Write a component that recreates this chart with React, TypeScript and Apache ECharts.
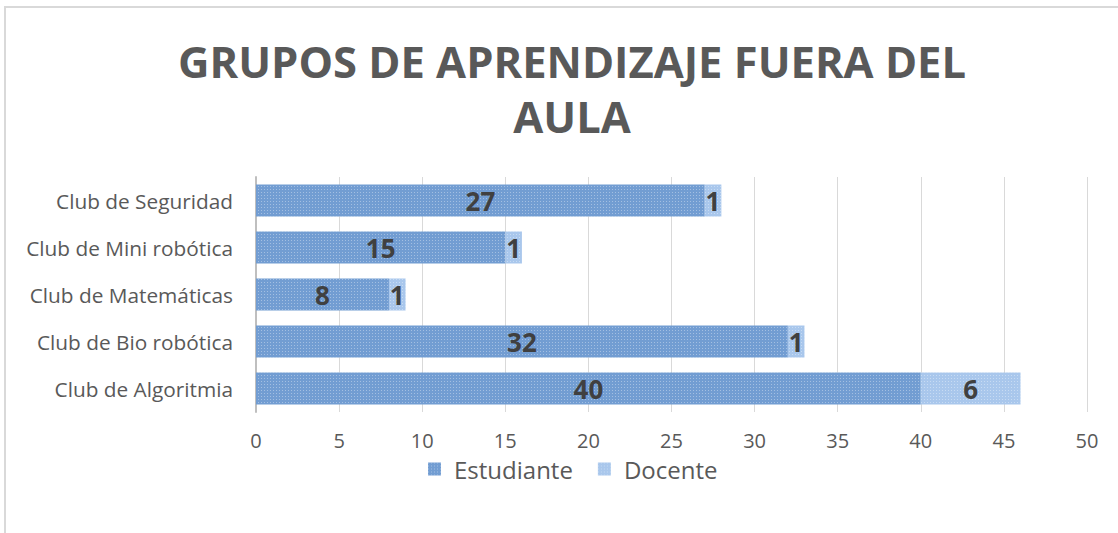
import React, { useEffect, useRef } from "react";
import * as echarts from "echarts";

const categories = [
  "Club de Algoritmia",
  "Club de Bio robótica",
  "Club de Matemáticas",
  "Club de Mini robótica",
  "Club de Seguridad",
];
const estudiante = [40, 32, 8, 15, 27];
const docente = [6, 1, 1, 1, 1];
const xTicks = [0, 5, 10, 15, 20, 25, 30, 35, 40, 45, 50];
const titleText = "GRUPOS DE APRENDIZAJE FUERA DEL\nAULA";

export default function App() {
  const ref = useRef<HTMLDivElement>(null);
  useEffect(() => {
    const chart = echarts.init(ref.current!, null, { renderer: "svg" });
    const label = {
      show: true,
      position: "inside",
      color: "#404040",
      fontSize: 26,
      fontWeight: "bold",
      fontFamily: "Open Sans",
    };
    const decal = {
      symbol: "rect",
      symbolSize: 1,
      color: "rgba(255,255,255,0.35)",
      dashArrayX: [1, 2],
      dashArrayY: [1, 2],
      rotation: 0,
    };
    chart.setOption({
      animation: false,
      backgroundColor: "#ffffff",
      aria: { enabled: true, decal: { show: true } },
      title: {
        text: titleText,
        left: 567,
        textAlign: "center",
        top: 29,
        textStyle: {
          fontFamily: "Open Sans",
          fontWeight: "bold",
          fontSize: 43.5,
          color: "#595959",
          lineHeight: 55,
        },
      },
      legend: {
        top: 452,
        left: 423,
        itemWidth: 13,
        itemHeight: 13,
        itemGap: 25,
        icon: "rect",
        textStyle: {
          fontFamily: "Open Sans",
          fontSize: 24,
          color: "#595959",
          padding: [0, 0, 0, 8],
        },
        data: ["Estudiante", "Docente"],
      },
      grid: { left: 256, right: 31, top: 177, height: 235 },
      xAxis: {
        type: "value",
        min: xTicks[0],
        max: xTicks[xTicks.length - 1],
        interval: 5,
        axisLine: { show: false },
        axisTick: { show: false },
        axisLabel: { fontFamily: "Open Sans", fontSize: 20, color: "#595959", margin: 18 },
        splitLine: { lineStyle: { color: "#d9d9d9", width: 1 } },
      },
      yAxis: {
        type: "category",
        data: categories,
        axisLine: { show: true, lineStyle: { color: "#bfbfbf", width: 2 } },
        axisTick: { show: false },
        axisLabel: { fontFamily: "Open Sans", fontSize: 20.8, color: "#595959", margin: 23 },
      },
      series: [
        {
          name: "Estudiante",
          type: "bar",
          stack: "total",
          data: estudiante,
          barWidth: 32,
          itemStyle: { color: "#729dd2", decal },
          label,
        },
        {
          name: "Docente",
          type: "bar",
          stack: "total",
          data: docente,
          barWidth: 32,
          itemStyle: { color: "#a9c7ec", decal },
          label,
        },
      ],
      graphic: [
        {
          type: "polyline",
          shape: { points: [[5, 540], [5, 7], [1125, 7]] },
          style: { stroke: "#d9d9d9", lineWidth: 2, fill: "none" },
        },
      ],
    });
    return () => chart.dispose();
  }, []);
  return (
    <div
      ref={ref}
      style={{ position: "fixed", left: 0, top: 0, width: 1118, height: 533 }}
    />
  );
}
